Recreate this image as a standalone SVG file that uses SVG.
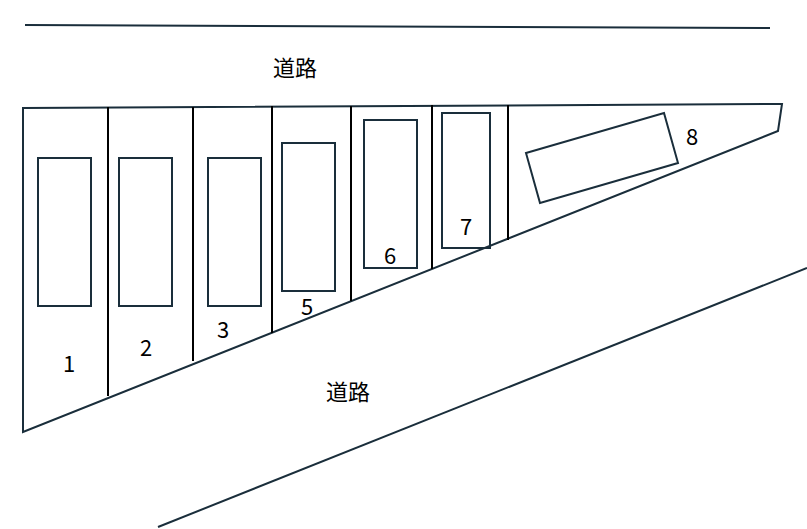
<svg xmlns="http://www.w3.org/2000/svg" width="807" height="529" viewBox="0 0 807 529">
<style>
.l{fill:none;stroke:#1a2e3b;stroke-width:2}
.d{stroke:#000;stroke-width:2}
text{font-family:"Noto Sans CJK JP","Noto Sans",sans-serif;font-size:22px;fill:#000;text-anchor:middle}
</style>
<rect width="807" height="529" fill="#fff"/>
<line class="l" x1="25" y1="25" x2="770" y2="28"/>
<line class="l" x1="158" y1="527" x2="807" y2="268"/>
<polygon class="l" points="23,108 782,104 778,131 23,432"/>
<g class="d">
<line x1="108" y1="107" x2="108" y2="396"/>
<line x1="193" y1="107" x2="193" y2="361"/>
<line x1="272" y1="106" x2="272" y2="333"/>
<line x1="351" y1="106" x2="351" y2="301"/>
<line x1="432" y1="105" x2="432" y2="269"/>
<line x1="508" y1="105" x2="508" y2="240"/>
</g>
<g class="l">
<rect x="38" y="158" width="53" height="148"/>
<rect x="119" y="158" width="53" height="148"/>
<rect x="208" y="158" width="53" height="148"/>
<rect x="282" y="143" width="53" height="148"/>
<rect x="364" y="120" width="53" height="148"/>
<rect x="442" y="113" width="48" height="135"/>
<polygon points="526,153 664,113 678,163 540,203"/>
</g>
<text x="295" y="76">道路</text>
<text x="348" y="400">道路</text>
<text x="69" y="372">1</text>
<text x="146" y="356">2</text>
<text x="223" y="338">3</text>
<text x="307" y="315">5</text>
<text x="390" y="264">6</text>
<text x="466" y="235">7</text>
<text x="692" y="145">8</text>
</svg>
